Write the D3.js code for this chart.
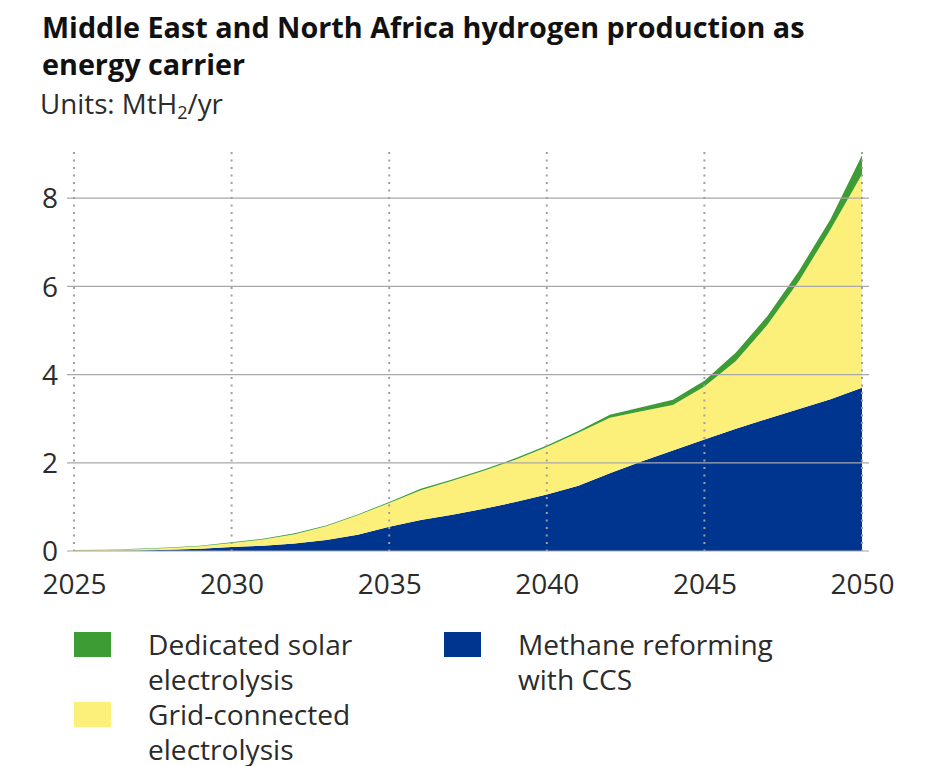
<!DOCTYPE html>
<html>
<head>
<meta charset="utf-8">
<script src="https://cdn.jsdelivr.net/npm/d3@7/dist/d3.min.js"></script>
<style>
  html, body { margin: 0; padding: 0; background: #ffffff; }
  svg { display: block; }
  text { font-family: "Open Sans", Lato, sans-serif; fill: #2b2b2b; }
</style>
</head>
<body>
<svg id="chart" width="951" height="766"></svg>
<script>
// ---- data ----
const years = [2025,2026,2027,2028,2029,2030,2031,2032,2033,2034,2035,2036,2037,2038,2039,2040,2041,2042,2043,2044,2045,2046,2047,2048,2049,2050];
const methaneCCS = [0.00,0.005,0.01,0.03,0.05,0.09,0.12,0.17,0.25,0.37,0.55,0.70,0.82,0.96,1.11,1.28,1.48,1.76,2.03,2.28,2.53,2.77,3.00,3.22,3.44,3.70];
const gridElectrolysis = [0.01,0.015,0.03,0.04,0.06,0.09,0.14,0.21,0.31,0.44,0.54,0.68,0.77,0.86,0.96,1.08,1.20,1.26,1.14,1.03,1.20,1.54,2.13,2.90,3.85,4.84];
const solarElectrolysis = [0.01,0.01,0.01,0.01,0.01,0.02,0.02,0.02,0.02,0.02,0.02,0.03,0.03,0.03,0.03,0.03,0.04,0.07,0.09,0.12,0.13,0.19,0.20,0.23,0.23,0.43];
const seriesNames = ["Methane reforming with CCS","Grid-connected electrolysis","Dedicated solar electrolysis"];
const seriesColors = ["#00358f","#fdf07a","#3e9c35"];
const yTicks = [0,2,4,6,8];
const xTicks = [2025,2030,2035,2040,2045,2050];
const titleLines = ["Middle East and North Africa hydrogen production as","energy carrier"];

// ---- build table ----
const table = years.map((yr,i)=>({year:yr, m:methaneCCS[i], g:gridElectrolysis[i], s:solarElectrolysis[i]}));
const keys = ["m","g","s"];

const svg = d3.select("#chart");
const x = d3.scaleLinear().domain([2025,2050]).range([74,862]);
const y = d3.scaleLinear().domain([0,9]).range([551,154]);

function fitSize(sel, baseSize, target){
  const w = sel.node().getComputedTextLength();
  return baseSize * target / w;
}

// title
const titleTexts = titleLines.map((t,i)=> svg.append("text").attr("x",42).attr("y",38+i*37)
    .attr("font-size",27).attr("font-weight",700).style("fill","#111").text(t));
const tSize = fitSize(titleTexts[0],27,763);
titleTexts.forEach(t=>t.attr("font-size",tSize));

// units
const units = svg.append("text").attr("x",40).attr("y",114).attr("font-size",25);
units.append("tspan").text("Units: MtH");
units.append("tspan").attr("font-size","0.65em").attr("dy",5).text("2");
units.append("tspan").attr("dy",-5).text("/yr");
units.attr("font-size",fitSize(units,25,183));

// areas
const stack = d3.stack().keys(keys);
const stacked = stack(table);
const area = d3.area().x(d=>x(d.data.year)).y0(d=>y(d[0])).y1(d=>y(d[1]));
svg.append("g").selectAll("path").data(stacked).join("path")
  .attr("d",area).attr("fill",(d,i)=>seriesColors[i]);

// horizontal gridlines (drawn over areas)
svg.append("g").selectAll("line").data(yTicks).join("line")
  .attr("x1",67).attr("x2",869).attr("y1",d=>y(d)).attr("y2",d=>y(d))
  .attr("stroke","#a8a8a8").attr("stroke-width",1.2);

// vertical dotted lines
svg.append("g").selectAll("line").data(xTicks).join("line")
  .attr("x1",d=>x(d)).attr("x2",d=>x(d)).attr("y1",152).attr("y2",551)
  .attr("stroke","#a0a0a0").attr("stroke-width",2).attr("stroke-dasharray","2,5.5");

// y axis labels
const yAxis = d3.axisLeft(y).tickValues(yTicks).tickSize(0).tickPadding(0).tickFormat(d3.format("d"));
const gy = svg.append("g").attr("transform","translate(58,0)").call(yAxis);
gy.select(".domain").remove();
gy.selectAll("text").attr("font-size",28).attr("font-family","Lato, 'Open Sans', sans-serif").style("fill","#2b2b2b").attr("dy","0.35em");

// x axis labels
const xAxis = d3.axisBottom(x).tickValues(xTicks).tickSize(0).tickPadding(0).tickFormat(d3.format("d"));
const gx = svg.append("g").attr("transform","translate(0,574)").call(xAxis);
gx.select(".domain").remove();
gx.selectAll("text").attr("font-size",28).attr("font-family","Lato, 'Open Sans', sans-serif").style("fill","#2b2b2b").attr("dy","0.71em");

// legend
const legendItems = [
  {name:["Dedicated solar","electrolysis"], color:seriesColors[2], x:74, y:632},
  {name:["Grid-connected","electrolysis"], color:seriesColors[1], x:74, y:702},
  {name:["Methane reforming","with CCS"], color:seriesColors[0], x:444, y:632}
];
const lg = svg.append("g").selectAll("g").data(legendItems).join("g");
lg.append("rect").attr("x",d=>d.x).attr("y",d=>d.y).attr("width",37).attr("height",25).attr("fill",d=>d.color);
const legendTexts = [];
lg.each(function(d){
  const g = d3.select(this);
  d.name.forEach((t,i)=>{
    legendTexts.push(g.append("text").attr("x",d.x+74).attr("y",d.y+23+i*34.5).attr("font-size",26).text(t));
  });
});
const lSize = fitSize(legendTexts[4],26,255);
legendTexts.forEach(t=>t.attr("font-size",lSize));
</script>
</body>
</html>
